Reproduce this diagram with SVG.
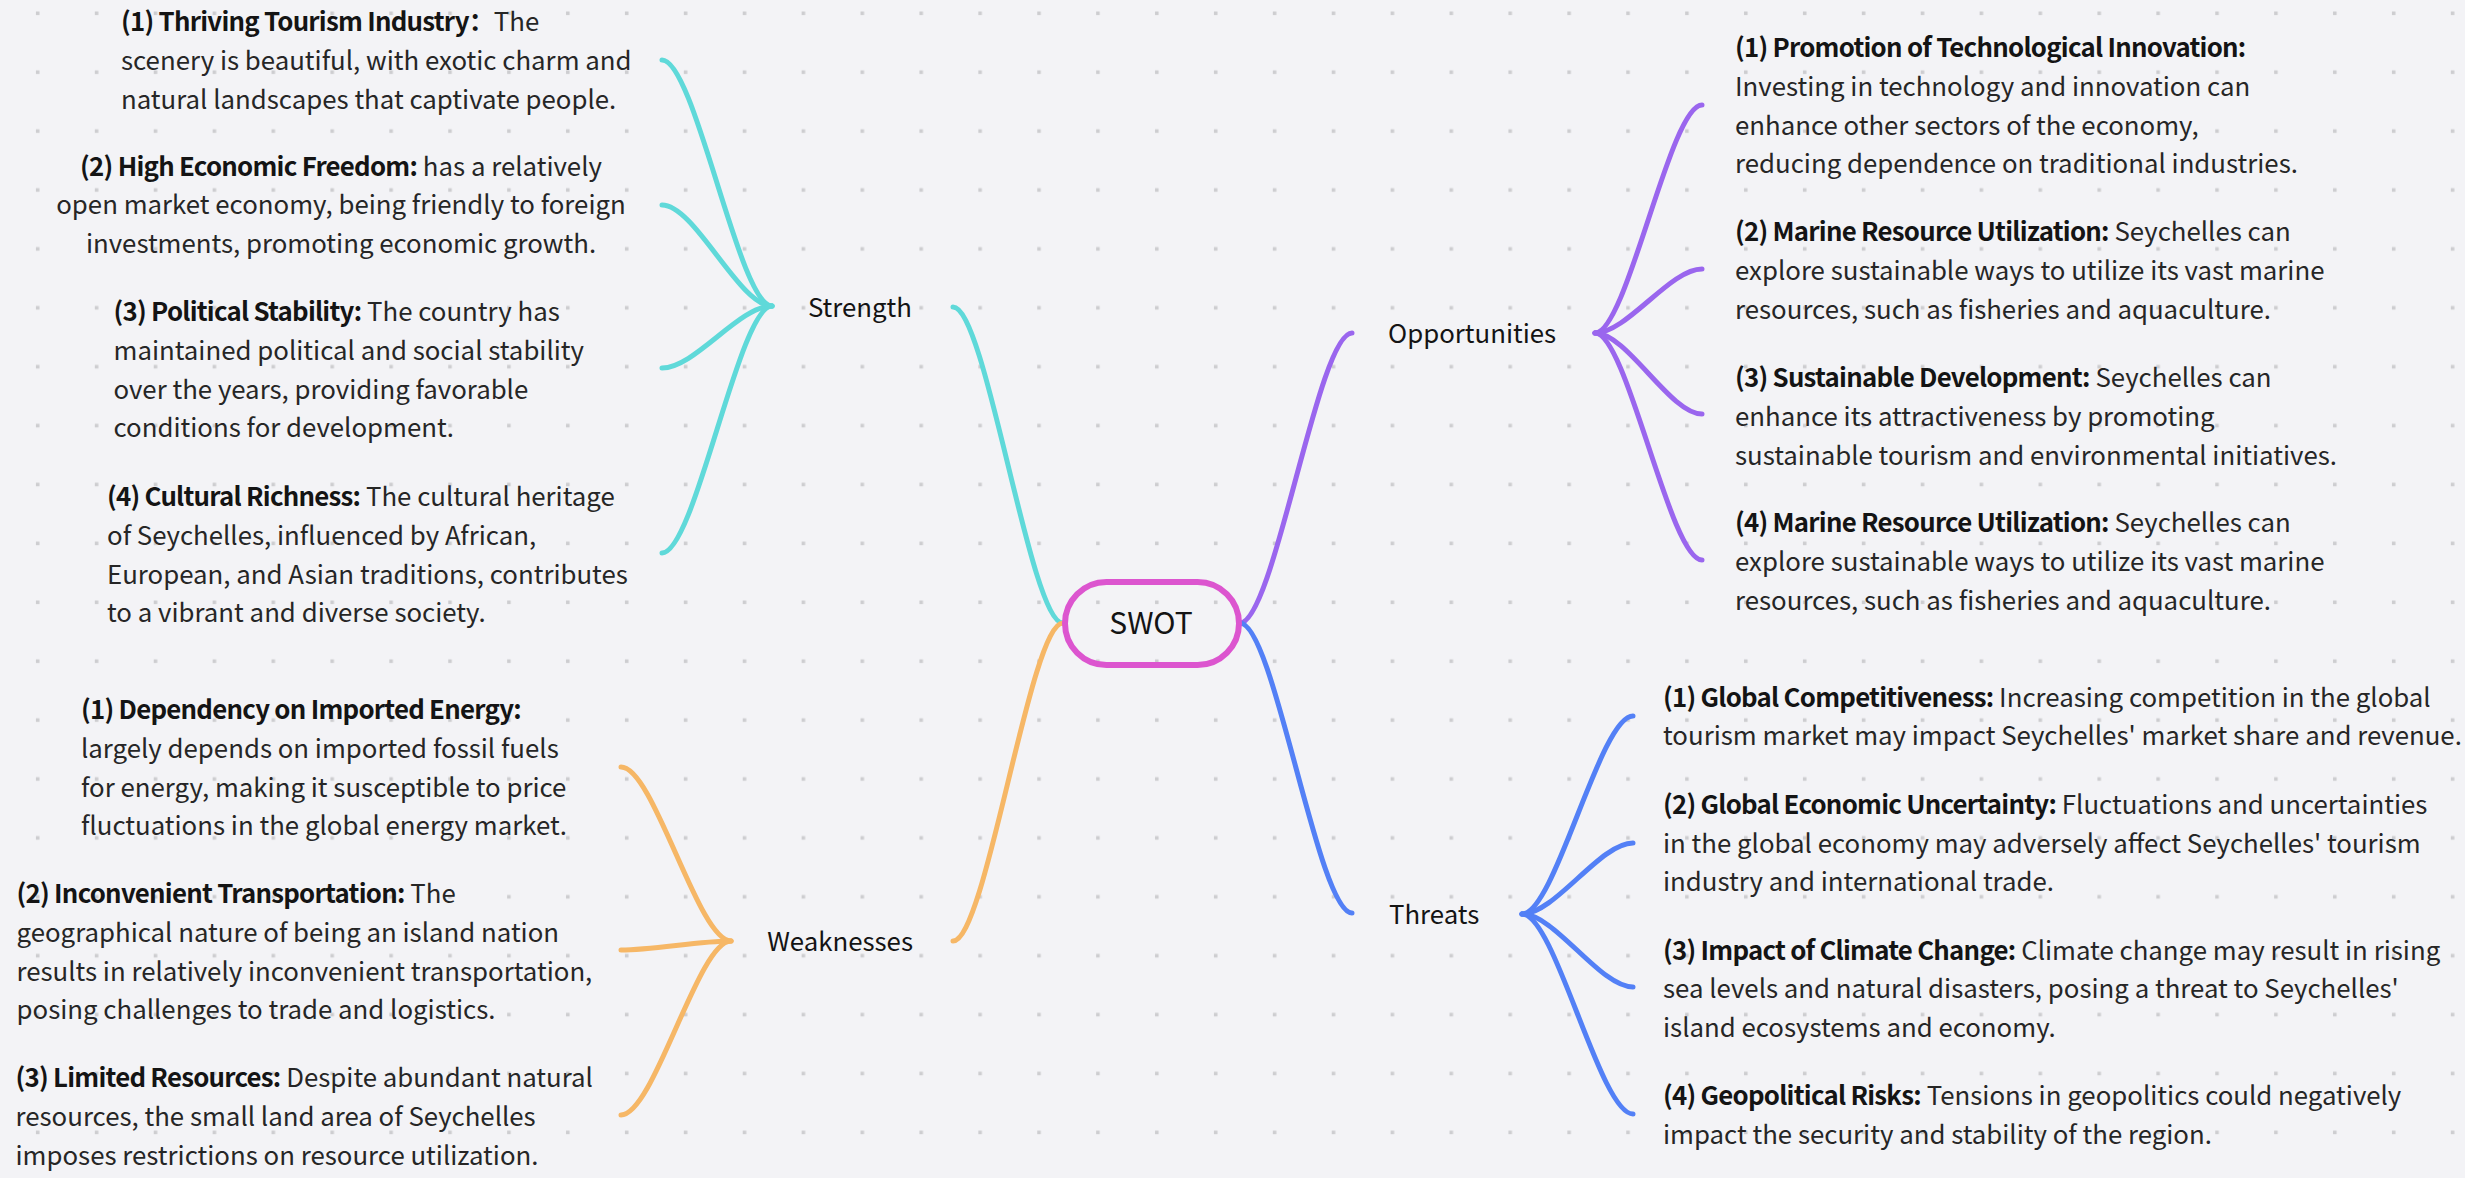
<svg xmlns="http://www.w3.org/2000/svg" width="2465" height="1178" viewBox="0 0 2465 1178">
<defs>
<pattern id="dots" patternUnits="userSpaceOnUse" x="0" y="0" width="58.9" height="58.9">
<rect x="35.9" y="11.5" width="3.6" height="3.6" fill="#cdcdd0"/>
</pattern>
<style>
.t{font-family:"Noto Sans CJK SC","Noto Sans",sans-serif;font-size:25.8px;fill:#262626;white-space:pre}
.b{font-weight:700;fill:#141414;letter-spacing:-0.75px}
.lbl{font-family:"Noto Sans CJK SC","Noto Sans",sans-serif;font-size:25.8px;fill:#141414}
.c{fill:none;stroke-width:5;stroke-linecap:round}
.cy{stroke:#5fd9d9}
.or{stroke:#f6b766}
.pu{stroke:#9a66ee}
.bl{stroke:#5380f6}
</style>
</defs>
<rect width="2465" height="1178" fill="#f3f3f6"/>
<rect width="2465" height="1178" fill="url(#dots)"/>

<g id="connectors">
<path class="c cy" d="M1063 623 C1030 623 986 307 953 307"/>
<path class="c or" d="M1063 623 C1030 623 986 941 953 941"/>
<path class="c pu" d="M1240 623 C1274 623 1318 333 1352 333"/>
<path class="c bl" d="M1240 623 C1274 623 1318 913 1352 913"/>

<path class="c cy" d="M772 306 C739 306 695 60 662 60"/>
<path class="c cy" d="M772 306 C739 306 695 205 662 205"/>
<path class="c cy" d="M772 306 C739 306 695 368 662 368"/>
<path class="c cy" d="M772 306 C739 306 695 553 662 553"/>

<path class="c or" d="M731 941 C698 941 654 767 621 767"/>
<path class="c or" d="M731 941 C698 941 654 950 621 950"/>
<path class="c or" d="M731 941 C698 941 654 1115 621 1115"/>

<path class="c pu" d="M1595 333 C1627 333 1670 105 1702 105"/>
<path class="c pu" d="M1595 333 C1627 333 1670 269 1702 269"/>
<path class="c pu" d="M1595 333 C1627 333 1670 414 1702 414"/>
<path class="c pu" d="M1595 333 C1627 333 1670 560 1702 560"/>

<path class="c bl" d="M1522 914 C1555 914 1600 716 1633 716"/>
<path class="c bl" d="M1522 914 C1555 914 1600 843 1633 843"/>
<path class="c bl" d="M1522 914 C1555 914 1600 987 1633 987"/>
<path class="c bl" d="M1522 914 C1555 914 1600 1114 1633 1114"/>
</g>

<g id="swot">
<rect x="1065" y="582" width="174" height="83" rx="41.5" fill="none" stroke="#dc55cf" stroke-width="6"/>
<text x="1151" y="633.5" text-anchor="middle" style="font-family:'Noto Sans CJK SC','Noto Sans',sans-serif;font-size:30px;fill:#141414">SWOT</text>
</g>

<g id="strength">
<text class="lbl" x="912" y="316.5" text-anchor="end">Strength</text>
</g>
<g id="weaknesses">
<text class="lbl" x="913" y="950.5" text-anchor="end">Weaknesses</text>
</g>
<g id="opportunities">
<text class="lbl" x="1388" y="342.5">Opportunities</text>
</g>
<g id="threats">
<text class="lbl" x="1389" y="923.5">Threats</text>
</g>

<g id="s1">
<text class="t" x="121" y="31"><tspan class="b">(1) Thriving Tourism Industry：</tspan>The</text>
<text class="t" x="121" y="69.8">scenery is beautiful, with exotic charm and</text>
<text class="t" x="121" y="108.6">natural landscapes that captivate people.</text>
</g>
<g id="s2">
<text class="t" x="341" y="175.5" text-anchor="middle"><tspan class="b">(2) High Economic Freedom:</tspan> has a relatively</text>
<text class="t" x="341" y="214.3" text-anchor="middle">open market economy, being friendly to foreign</text>
<text class="t" x="341" y="253.1" text-anchor="middle">investments, promoting economic growth.</text>
</g>
<g id="s3">
<text class="t" x="113.5" y="321"><tspan class="b">(3) Political Stability:</tspan> The country has</text>
<text class="t" x="113.5" y="359.8">maintained political and social stability</text>
<text class="t" x="113.5" y="398.6">over the years, providing favorable</text>
<text class="t" x="113.5" y="437.4">conditions for development.</text>
</g>
<g id="s4">
<text class="t" x="107" y="506"><tspan class="b">(4) Cultural Richness:</tspan> The cultural heritage</text>
<text class="t" x="107" y="544.8">of Seychelles, influenced by African,</text>
<text class="t" x="107" y="583.6">European, and Asian traditions, contributes</text>
<text class="t" x="107" y="622.4">to a vibrant and diverse society.</text>
</g>

<g id="w1">
<text class="t b" x="81" y="719">(1) Dependency on Imported Energy:</text>
<text class="t" x="81" y="757.8">largely depends on imported fossil fuels</text>
<text class="t" x="81" y="796.6">for energy, making it susceptible to price</text>
<text class="t" x="81" y="835.4">fluctuations in the global energy market.</text>
</g>
<g id="w2">
<text class="t" x="16.5" y="903"><tspan class="b">(2) Inconvenient Transportation:</tspan> The</text>
<text class="t" x="16.5" y="941.8">geographical nature of being an island nation</text>
<text class="t" x="16.5" y="980.6">results in relatively inconvenient transportation,</text>
<text class="t" x="16.5" y="1019.4">posing challenges to trade and logistics.</text>
</g>
<g id="w3">
<text class="t" x="15.5" y="1087"><tspan class="b">(3) Limited Resources:</tspan> Despite abundant natural</text>
<text class="t" x="15.5" y="1125.8">resources, the small land area of Seychelles</text>
<text class="t" x="15.5" y="1164.6">imposes restrictions on resource utilization.</text>
</g>

<g id="o1">
<text class="t b" x="1735" y="57">(1) Promotion of Technological Innovation:</text>
<text class="t" x="1735" y="95.8">Investing in technology and innovation can</text>
<text class="t" x="1735" y="134.6">enhance other sectors of the economy,</text>
<text class="t" x="1735" y="173.4">reducing dependence on traditional industries.</text>
</g>
<g id="o2">
<text class="t" x="1735" y="241"><tspan class="b">(2) Marine Resource Utilization:</tspan> Seychelles can</text>
<text class="t" x="1735" y="279.8">explore sustainable ways to utilize its vast marine</text>
<text class="t" x="1735" y="318.6">resources, such as fisheries and aquaculture.</text>
</g>
<g id="o3">
<text class="t" x="1735" y="387"><tspan class="b">(3) Sustainable Development:</tspan> Seychelles can</text>
<text class="t" x="1735" y="425.8">enhance its attractiveness by promoting</text>
<text class="t" x="1735" y="464.6">sustainable tourism and environmental initiatives.</text>
</g>
<g id="o4">
<text class="t" x="1735" y="532"><tspan class="b">(4) Marine Resource Utilization:</tspan> Seychelles can</text>
<text class="t" x="1735" y="570.8">explore sustainable ways to utilize its vast marine</text>
<text class="t" x="1735" y="609.6">resources, such as fisheries and aquaculture.</text>
</g>

<g id="t1">
<text class="t" x="1663" y="706.5"><tspan class="b">(1) Global Competitiveness:</tspan> Increasing competition in the global</text>
<text class="t" x="1663" y="745.3">tourism market may impact Seychelles' market share and revenue.</text>
</g>
<g id="t2">
<text class="t" x="1663" y="813.7"><tspan class="b">(2) Global Economic Uncertainty:</tspan> Fluctuations and uncertainties</text>
<text class="t" x="1663" y="852.5">in the global economy may adversely affect Seychelles' tourism</text>
<text class="t" x="1663" y="891.3">industry and international trade.</text>
</g>
<g id="t3">
<text class="t" x="1663" y="959.6"><tspan class="b">(3) Impact of Climate Change:</tspan> Climate change may result in rising</text>
<text class="t" x="1663" y="998.4">sea levels and natural disasters, posing a threat to Seychelles'</text>
<text class="t" x="1663" y="1037.2">island ecosystems and economy.</text>
</g>
<g id="t4">
<text class="t" x="1663" y="1104.7"><tspan class="b">(4) Geopolitical Risks:</tspan> Tensions in geopolitics could negatively</text>
<text class="t" x="1663" y="1143.5">impact the security and stability of the region.</text>
</g>
</svg>
